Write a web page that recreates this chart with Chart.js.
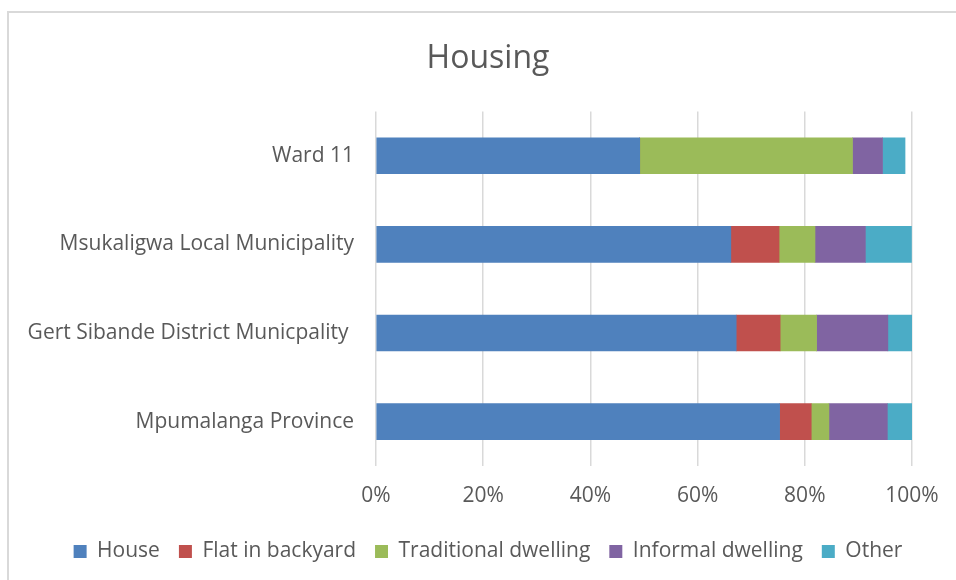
<!DOCTYPE html>
<html>
<head>
<meta charset="utf-8">
<title>Housing</title>
<script src="https://cdn.jsdelivr.net/npm/chart.js@4"></script>
<style>
    html, body { margin: 0; padding: 0; background: #fff; overflow: hidden; }
    #kutu {
        position: absolute; left: 0; top: 0; width: 956px; height: 580px; overflow: hidden;
    }
    #grafik { position: absolute; left: 0; top: 0; }
    #cerceve {
        position: absolute; left: 7px; top: 11px; width: 1000px; height: 600px;
        border-left: 2px solid #d9d9d9; border-top: 2px solid #d9d9d9;
        pointer-events: none;
    }
</style>
</head>
<body>
<div id="kutu">
    <canvas id="grafik" width="976" height="580"></canvas>
    <div id="cerceve"></div>
</div>
<script>
// Kategoriler ve seriler (yüzde)
const bolgeler = [
    "Ward 11",
    "Msukaligwa Local Municipality",
    "Gert Sibande District Municpality ",
    "Mpumalanga Province"
];
const house       = [49.2, 66.2, 67.2, 75.3];
const flatBackyard = [0, 9.0, 8.2, 5.9];
const traditional = [39.7, 6.7, 6.8, 3.3];
const informal    = [5.6, 9.4, 13.3, 10.9];
const other       = [4.2, 8.6, 4.5, 4.6];
const eksenEtiketleri = ["0%", "20%", "40%", "60%", "80%", "100%"];

const yaziRengi = '#595959';
const yazi = "'Open Sans', 'Noto Sans', sans-serif";

function seri(label, data, renk) {
    return {
        label: label,
        data: data,
        backgroundColor: renk,
        borderWidth: 0,
        barThickness: 36
    };
}

const ctx = document.getElementById('grafik').getContext('2d');
new Chart(ctx, {
    type: 'bar',
    data: {
        labels: bolgeler,
        datasets: [
            seri('House', house, '#4f81bd'),
            seri('Flat in backyard', flatBackyard, '#c0504d'),
            seri('Traditional dwelling', traditional, '#9bbb59'),
            seri('Informal dwelling', informal, '#8064a2'),
            seri('Other', other, '#4bacc6')
        ]
    },
    options: {
        indexAxis: 'y',
        responsive: false,
        animation: false,
        layout: { padding: { left: 0, right: 0, top: 0, bottom: 8 } },
        scales: {
            x: {
                stacked: true,
                min: 0,
                max: 100,
                ticks: {
                    stepSize: 20,
                    color: yaziRengi,
                    font: { family: yazi, size: 21 },
                    padding: 17,
                    callback: (v, i) => eksenEtiketleri[i]
                },
                grid: { color: '#d9d9d9', lineWidth: 1.5, drawTicks: false },
                border: { display: false },
                afterFit: (olcek) => { olcek.height = 56; }
            },
            y: {
                stacked: true,
                ticks: {
                    color: yaziRengi,
                    font: { family: yazi, size: 21 },
                    padding: 22,
                    autoSkip: false
                },
                grid: { display: false, drawTicks: false },
                border: { display: false },
                afterFit: (olcek) => { olcek.width = 376; }
            },
            // sağdaki boş alan için görünmez eksen
            sagBosluk: {
                type: 'category',
                axis: 'y',
                position: 'right',
                ticks: { display: false },
                grid: { display: false, drawTicks: false },
                border: { display: false },
                afterFit: (olcek) => { olcek.width = 64; }
            }
        },
        plugins: {
            title: {
                display: true,
                text: 'Housing',
                color: yaziRengi,
                font: { family: yazi, size: 32, weight: 'normal' },
                padding: { top: 40, bottom: 33 }
            },
            legend: {
                position: 'bottom',
                labels: {
                    color: yaziRengi,
                    font: { family: yazi, size: 21 },
                    boxWidth: 13,
                    boxHeight: 13,
                    padding: 19
                }
            },
            tooltip: { enabled: false }
        }
    }
});
</script>
</body>
</html>
